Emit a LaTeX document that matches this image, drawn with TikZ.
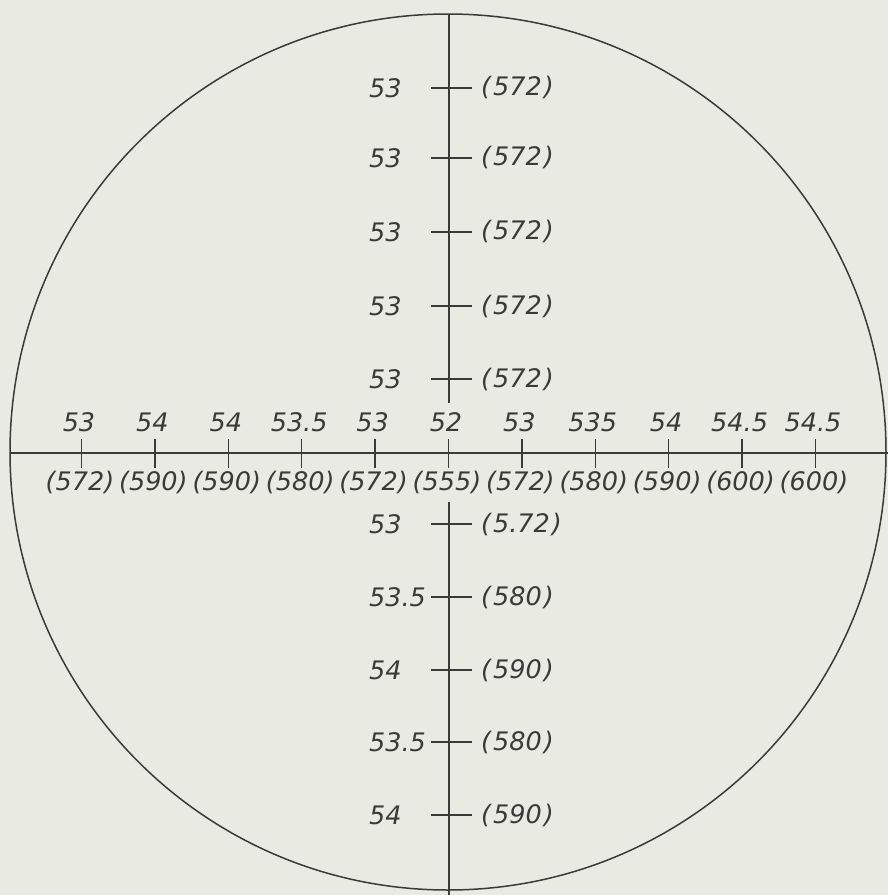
\documentclass[tikz,border=0pt]{standalone}
\usepackage{fontspec}
\setmainfont{DejaVu Sans}
\begin{document}
\begin{tikzpicture}[x=1pt,y=-1pt,
  ink/.style={draw=inkc,line width=1.5pt},
  lbl/.style={text=inkc,inner sep=0pt,font=\fontsize{25.5}{28}\selectfont\itshape},
  vlabel/.style={lbl,anchor=west},
]
\definecolor{inkc}{HTML}{3A3A38}
\definecolor{paper}{HTML}{E9EBE3}
\fill[paper] (0,0) rectangle (888,895);
\useasboundingbox (0,0) rectangle (888,895);
\coordinate (c) at (448,452);
\coordinate (vtop) at (449,14);
\coordinate (vtopend) at (449,403);
\coordinate (vbotstart) at (449,502);
\coordinate (vbot) at (449,895);
\coordinate (hl) at (10,453);
\coordinate (hr) at (888,453);
\draw[ink] (c) circle[radius=438];
\draw[ink] (vtop) -- (vtopend);
\draw[ink] (vbotstart) -- (vbot);
\draw[ink] (hl) -- (hr);
% horizontal axis ticks and labels
\foreach \k/\top/\bot in {-5/53/(572),-4/54/(590),-3/54/(590),-2/53.5/(580),-1/53/(572),0/52/(555),1/53/(572),2/535/(580),3/54/(590),4/54.5/(600),5/54.5/(600)}{
  \coordinate (ht\k) at ({448.5+73.4*\k},439);
  \coordinate (hb\k) at ({448.5+73.4*\k},468);
  \draw[ink] (ht\k) -- (hb\k);
  \node[lbl] (hu\k) at ({446+73.4*\k},422) {\top};
  \node[lbl] (hd\k) at ({447+73.4*\k},482) {\bot};
}
% vertical axis ticks and labels
\foreach \i/\y/\l/\r in {1/88/53/(\kern2pt572\kern2pt),2/158/53/(\kern2pt572\kern2pt),3/232/53/(\kern2pt572\kern2pt),4/306/53/(\kern2pt572\kern2pt),5/379/53/(\kern2pt572\kern2pt),6/524/53/(\kern2pt5.72\kern2pt),7/597/53.5/(\kern2pt580\kern2pt),8/670/54/(\kern2pt590\kern2pt),9/742/53.5/(\kern2pt580\kern2pt),10/815/54/(\kern2pt590\kern2pt)}{
  \coordinate (vl\i) at (431,\y);
  \coordinate (vr\i) at (472,\y);
  \draw[ink] (vl\i) -- (vr\i);
  \node[vlabel] (lv\i) at (369,\y) {\l};
  \node[vlabel] (rv\i) at (481,\y) {\r};
}
\end{tikzpicture}
\end{document}
